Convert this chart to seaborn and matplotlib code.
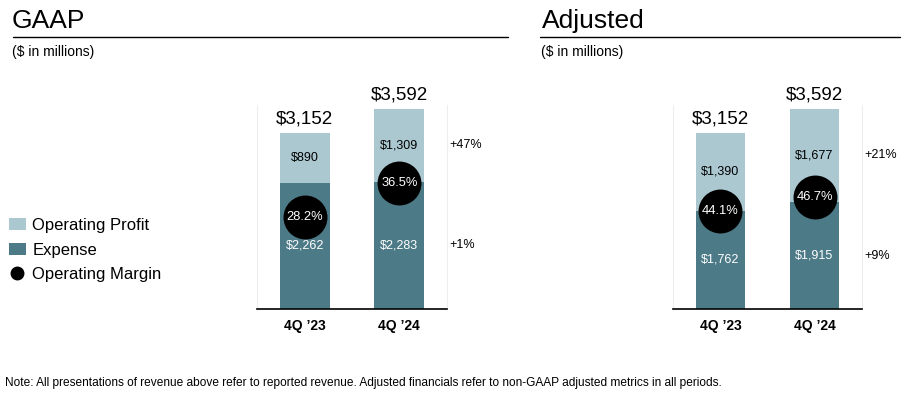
import matplotlib
matplotlib.use("Agg")
import matplotlib.pyplot as plt
import matplotlib.transforms as mtransforms
from matplotlib.lines import Line2D
from matplotlib.patches import Patch
import seaborn as sns
import pandas as pd

# ---------------- data ----------------
quarters = ["4Q \u201923", "4Q \u201924"]
totals = [3152, 3592]

gaap_expense = [2262, 2283]
gaap_profit = [890, 1309]
gaap_margin = [28.2, 36.5]
gaap_margin_y = [1650, 2260]
gaap_growth = ["+47%", "+1%"]  # profit, expense

adj_expense = [1762, 1915]
adj_profit = [1390, 1677]
adj_margin = [44.1, 46.7]
adj_margin_y = [1756, 2007]
adj_growth = ["+21%", "+9%"]

panel_titles = ["GAAP", "Adjusted"]
subtitle = "($ in millions)"
legend_labels = ["Operating Profit", "Expense", "Operating Margin"]
footnote = ("Note: All presentations of revenue above refer to reported revenue. "
            "Adjusted financials refer to non-GAAP adjusted metrics in all periods.")

LIGHT = "#abc8d1"
DARK = "#4d7a87"

sns.set_theme(style="white")
plt.rcParams["font.family"] = ["Liberation Sans", "DejaVu Sans"]
plt.rcParams["text.color"] = "black"
plt.rcParams["xtick.color"] = "black"
plt.rcParams["axes.labelcolor"] = "black"

W, H = 911, 396
fig = plt.figure(figsize=(W / 100, H / 100), dpi=100)


def fx(px):
    return px / W


def fy(py):
    return 1 - py / H


def draw_panel(ax, expense, profit, margin, margin_y, growth):
    df = pd.DataFrame({"quarter": quarters, "total": [e + p for e, p in zip(expense, profit)],
                       "expense": expense})
    sns.barplot(data=df, x="quarter", y="total", color=LIGHT, width=0.526,
                linewidth=0, saturation=1, ax=ax)
    sns.barplot(data=df, x="quarter", y="expense", color=DARK, width=0.526,
                linewidth=0, saturation=1, ax=ax)
    ax.scatter(range(len(quarters)), margin_y, s=1000, color="black", zorder=5,
               linewidths=0, clip_on=False)
    for i in range(len(quarters)):
        tot = expense[i] + profit[i]
        ax.text(i, margin_y[i], f"{margin[i]:.1f}%", ha="center", va="center",
                color="white", fontsize=9.3, zorder=6)
        ax.text(i, expense[i] / 2, f"${expense[i]:,}", ha="center", va="center",
                color="white", fontsize=9, zorder=4)
        ax.text(i, expense[i] + profit[i] / 2, f"${profit[i]:,}", ha="center",
                va="center", color="black", fontsize=9, zorder=4)
        ax.annotate(f"${tot:,}", (i, tot), xytext=(0, 4), textcoords="offset points",
                    ha="center", va="bottom", fontsize=13.5, color="black",
                    annotation_clip=False)
    last = len(quarters) - 1
    trans = mtransforms.blended_transform_factory(ax.transAxes, ax.transData)
    ax.text(1.01, expense[last] + profit[last] / 2, growth[0], transform=trans,
            ha="left", va="center", fontsize=9)
    ax.text(1.01, expense[last] / 2, growth[1], transform=trans,
            ha="left", va="center", fontsize=9)

    ax.set_xlim(-0.505, 1.505)
    ax.set_ylim(0, 3656)
    ax.set_xlabel("")
    ax.set_ylabel("")
    ax.set_yticks([])
    ax.tick_params(axis="x", length=0, pad=7, colors="black")
    for lab in ax.get_xticklabels():
        lab.set_fontweight("bold")
        lab.set_fontsize(10)
    ax.spines["top"].set_visible(False)
    ax.spines["left"].set_color("#eeeeee")
    ax.spines["right"].set_color("#eeeeee")
    ax.spines["left"].set_linewidth(0.8)
    ax.spines["right"].set_linewidth(0.8)
    ax.spines["bottom"].set_color("black")
    ax.spines["bottom"].set_linewidth(1.2)


ax_bottom = fy(309)
ax_h = (309 - 105) / H
ax1 = fig.add_axes([fx(257), ax_bottom, fx(447 - 257), ax_h])
ax2 = fig.add_axes([fx(673), ax_bottom, fx(862 - 673), ax_h])
draw_panel(ax1, gaap_expense, gaap_profit, gaap_margin, gaap_margin_y, gaap_growth)
draw_panel(ax2, adj_expense, adj_profit, adj_margin, adj_margin_y, adj_growth)

# titles, rules and subtitles
fig.text(fx(12), fy(28), panel_titles[0], fontsize=19, ha="left", va="baseline")
fig.text(fx(542), fy(28), panel_titles[1], fontsize=19, ha="left", va="baseline")
fig.add_artist(Line2D([fx(13), fx(508)], [fy(37), fy(37)], color="black", lw=1.0))
fig.add_artist(Line2D([fx(540), fx(900)], [fy(37), fy(37)], color="black", lw=1.0))
fig.text(fx(12), fy(52), subtitle, fontsize=10, ha="left", va="center")
fig.text(fx(541), fy(52), subtitle, fontsize=10, ha="left", va="center")

# legend
handles = [Patch(facecolor=LIGHT, edgecolor="none"),
           Patch(facecolor=DARK, edgecolor="none"),
           Line2D([0], [0], marker="o", color="none", markerfacecolor="black",
                  markeredgecolor="black", markersize=9)]
fig.legend(handles, legend_labels, loc="upper left", bbox_to_anchor=(fx(9), fy(218)),
           frameon=False, fontsize=12, handlelength=1.0, handleheight=0.75,
           handletextpad=0.4, labelspacing=0.58, borderpad=0, borderaxespad=0)

fig.text(fx(5), fy(383), footnote, fontsize=8.6, ha="left", va="center")

fig.savefig("out.png", dpi=100)
